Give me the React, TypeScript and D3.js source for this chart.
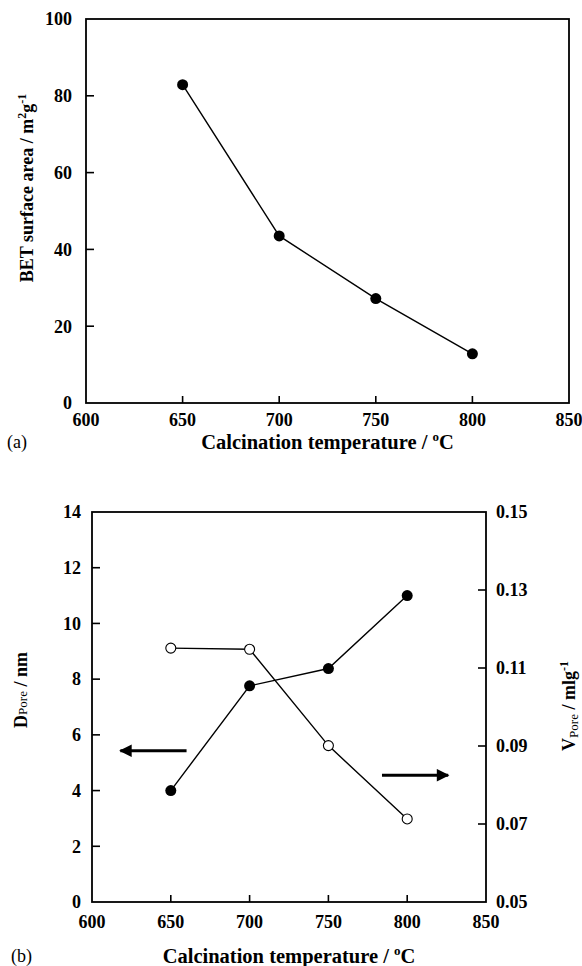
import React from "react";
import * as d3 from "d3";

const temps = [650, 700, 750, 800];
const betArea = [82.9, 43.5, 27.2, 12.8];
const dPore = [4.0, 7.76, 8.38, 11.0];
const vPore = [0.1151, 0.1148, 0.0901, 0.0713];
const xTicks = [600, 650, 700, 750, 800, 850];
const topYTicks = [0, 20, 40, 60, 80, 100];
const botLeftTicks = [0, 2, 4, 6, 8, 10, 12, 14];
const botRightTicks = [0.05, 0.07, 0.09, 0.11, 0.13, 0.15];
const arrowLeft = { from: 660, to: 618, y: 5.43 };
const arrowRight = { from: 784, to: 826, y: 0.0825 };

const FONT = "'Liberation Serif', 'Times New Roman', serif";

export default function App() {
  // Top chart
  const tL = 86, tR = 569, tT = 19, tB = 403;
  const xT = d3.scaleLinear().domain([600, 850]).range([tL, tR]);
  const yT = d3.scaleLinear().domain([0, 100]).range([tB, tT]);
  // Bottom chart
  const bL = 92, bR = 486, bT = 512, bB = 902;
  const xB = d3.scaleLinear().domain([600, 850]).range([bL, bR]);
  const yBL = d3.scaleLinear().domain([0, 14]).range([bB, bT]);
  const yBR = d3.scaleLinear().domain([0.05, 0.15]).range([bB, bT]);

  const lineTop = d3.line<number>().x((_, i) => xT(temps[i])).y((d) => yT(d));
  const lineD = d3.line<number>().x((_, i) => xB(temps[i])).y((d) => yBL(d));
  const lineV = d3.line<number>().x((_, i) => xB(temps[i])).y((d) => yBR(d));

  const tickFs = 18;
  const labFs = 18;
  const xLabFs = 20.5;

  return (
    <svg
      width={582}
      height={966}
      style={{ position: "absolute", left: 0, top: 0, background: "#fff" }}
      fontFamily={FONT}
    >
      <defs>
        <marker id="ah" viewBox="0 0 10 10" refX="9" refY="5" markerWidth="4.6" markerHeight="4.2" orient="auto" markerUnits="strokeWidth">
          <path d="M0,0 L10,5 L0,10 z" fill="#000" />
        </marker>
      </defs>
      <rect x={0} y={0} width={582} height={966} fill="#fff" />

      {/* ===== Top chart ===== */}
      <rect x={tL} y={tT} width={tR - tL} height={tB - tT} fill="none" stroke="#000" strokeWidth={1.8} />
      {topYTicks.slice(1, -1).map((t) => (
        <line key={"tyt" + t} x1={tL} x2={tL + 8} y1={yT(t)} y2={yT(t)} stroke="#000" strokeWidth={1.6} />
      ))}
      {xTicks.slice(1, -1).map((t) => (
        <line key={"txt" + t} x1={xT(t)} x2={xT(t)} y1={tB} y2={tB - 7} stroke="#000" strokeWidth={1.6} />
      ))}
      {topYTicks.map((t) => (
        <text key={"tyl" + t} x={72} y={yT(t)} dy="0.35em" textAnchor="end" fontSize={tickFs} fontWeight="bold">
          {t}
        </text>
      ))}
      {xTicks.map((t) => (
        <text key={"txl" + t} x={xT(t)} y={426} textAnchor="middle" fontSize={tickFs} fontWeight="bold">
          {t}
        </text>
      ))}
      <path d={lineTop(betArea) || ""} fill="none" stroke="#000" strokeWidth={1.4} />
      {betArea.map((v, i) => (
        <circle key={"tp" + i} cx={xT(temps[i])} cy={yT(v)} r={5.5} fill="#000" />
      ))}
      <text x={(tL + tR) / 2} y={449} textAnchor="middle" fontSize={xLabFs} fontWeight="bold">
        Calcination temperature / <tspan dy={-8} fontSize={13}>o</tspan>
        <tspan dy={8}>C</tspan>
      </text>
      <text x={7} y={448} fontSize={18}>(a)</text>
      <text transform={`translate(33,188) rotate(-90)`} textAnchor="middle" fontSize={labFs} fontWeight="bold">
        BET surface area / m<tspan dy={-7} fontSize={12}>2</tspan>
        <tspan dy={7}>g</tspan>
        <tspan dy={-7} fontSize={12}>-1</tspan>
      </text>

      {/* ===== Bottom chart ===== */}
      <rect x={bL} y={bT} width={bR - bL} height={bB - bT} fill="none" stroke="#000" strokeWidth={1.8} />
      {botLeftTicks.slice(1, -1).map((t) => (
        <line key={"blt" + t} x1={bL} x2={bL + 8} y1={yBL(t)} y2={yBL(t)} stroke="#000" strokeWidth={1.6} />
      ))}
      {botRightTicks.slice(1, -1).map((t) => (
        <line key={"brt" + t} x1={bR} x2={bR - 8} y1={yBR(t)} y2={yBR(t)} stroke="#000" strokeWidth={1.6} />
      ))}
      {xTicks.slice(1, -1).map((t) => (
        <line key={"bxt" + t} x1={xB(t)} x2={xB(t)} y1={bB} y2={bB - 7} stroke="#000" strokeWidth={1.6} />
      ))}
      {botLeftTicks.map((t) => (
        <text key={"bll" + t} x={81} y={yBL(t)} dy="0.35em" textAnchor="end" fontSize={tickFs} fontWeight="bold">
          {t}
        </text>
      ))}
      {botRightTicks.map((t) => (
        <text key={"brl" + t} x={496} y={yBR(t)} dy="0.35em" textAnchor="start" fontSize={tickFs} fontWeight="bold">
          {t.toFixed(2)}
        </text>
      ))}
      {xTicks.map((t) => (
        <text key={"bxl" + t} x={xB(t)} y={928} textAnchor="middle" fontSize={tickFs} fontWeight="bold">
          {t}
        </text>
      ))}
      <path d={lineD(dPore) || ""} fill="none" stroke="#000" strokeWidth={1.4} />
      <path d={lineV(vPore) || ""} fill="none" stroke="#000" strokeWidth={1.4} />
      {dPore.map((v, i) => (
        <circle key={"bd" + i} cx={xB(temps[i])} cy={yBL(v)} r={5.5} fill="#000" />
      ))}
      {vPore.map((v, i) => (
        <circle key={"bv" + i} cx={xB(temps[i])} cy={yBR(v)} r={5} fill="#fff" stroke="#000" strokeWidth={1.1} />
      ))}
      <line
        x1={xB(arrowLeft.from)} x2={xB(arrowLeft.to)} y1={yBL(arrowLeft.y)} y2={yBL(arrowLeft.y)}
        stroke="#000" strokeWidth={3} markerEnd="url(#ah)"
      />
      <line
        x1={xB(arrowRight.from)} x2={xB(arrowRight.to)} y1={yBR(arrowRight.y)} y2={yBR(arrowRight.y)}
        stroke="#000" strokeWidth={3} markerEnd="url(#ah)"
      />
      <text x={(bL + bR) / 2} y={963} textAnchor="middle" fontSize={xLabFs} fontWeight="bold">
        Calcination temperature / <tspan dy={-8} fontSize={13}>o</tspan>
        <tspan dy={8}>C</tspan>
      </text>
      <text x={11} y={962} fontSize={18}>(b)</text>
      <text transform={`translate(27,690) rotate(-90)`} textAnchor="middle" fontSize={labFs} fontWeight="bold">
        D<tspan fontSize={13} fontWeight="normal">Pore</tspan> / nm
      </text>
      <text transform={`translate(575,706) rotate(-90)`} textAnchor="middle" fontSize={labFs} fontWeight="bold">
        V<tspan fontSize={13} dy={3} fontWeight="normal">Pore</tspan>
        <tspan dy={-3}> / mlg</tspan>
        <tspan dy={-7} fontSize={12}>-1</tspan>
      </text>
    </svg>
  );
}
